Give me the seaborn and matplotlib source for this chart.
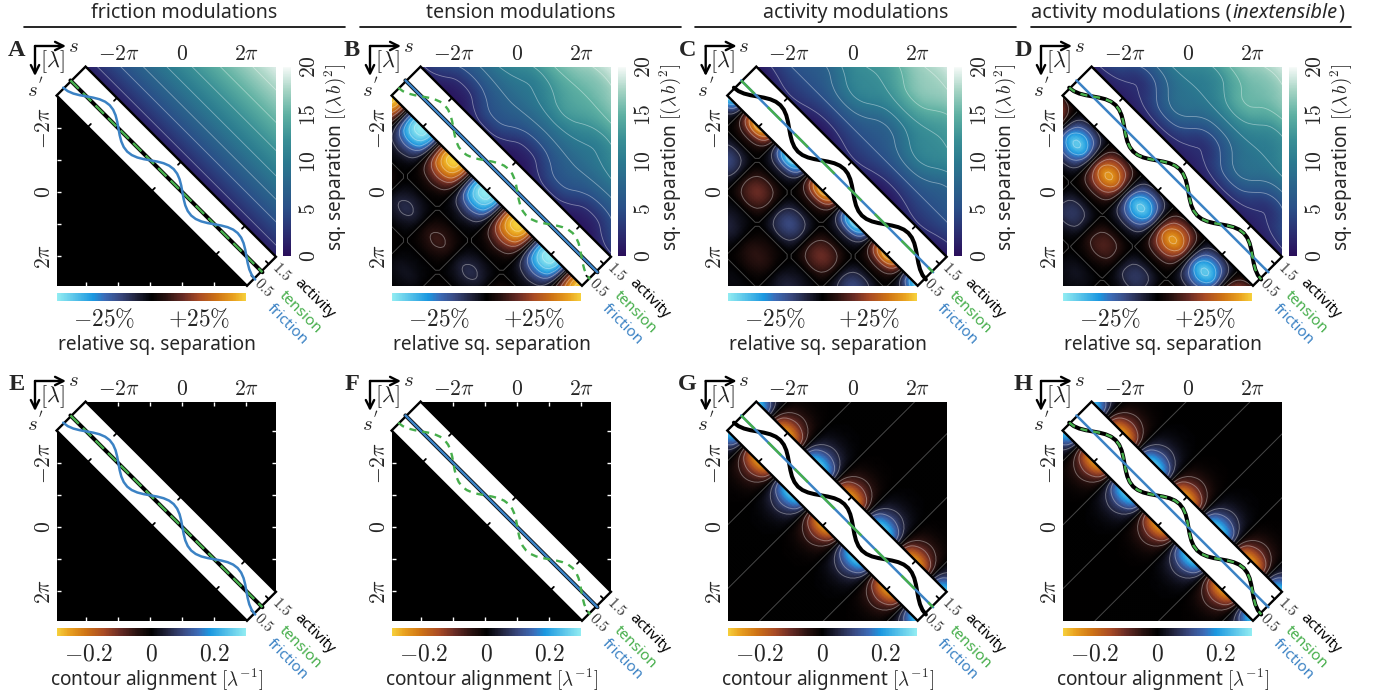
import numpy as np
import matplotlib
matplotlib.use("Agg")
import matplotlib.pyplot as plt
from matplotlib.cm import ScalarMappable
from matplotlib.colors import LinearSegmentedColormap, Normalize
from matplotlib.patches import Polygon
from matplotlib.transforms import Affine2D
import seaborn as sns

W, H = 1377, 696
pi = np.pi

titles = ["friction modulations", "tension modulations", "activity modulations"]
letters = ["A", "B", "C", "D", "E", "F", "G", "H"]

# profiles along the band, one value every pi/8 from s = -3.5 pi to 2.5 pi
wavy = [0.5, 0.538, 0.646, 0.809, 1.0, 1.191, 1.354, 1.462, 1.5, 1.462, 1.354, 1.191, 1.0, 0.809, 0.646, 0.538,
        0.5, 0.538, 0.646, 0.809, 1.0, 1.191, 1.354, 1.462, 1.5, 1.462, 1.354, 1.191, 1.0, 0.809, 0.646, 0.538,
        0.5, 0.538, 0.646, 0.809, 1.0, 1.191, 1.354, 1.462, 1.5, 1.462, 1.354, 1.191, 1.0, 0.809, 0.646, 0.538, 0.5]
flat = [1.0] * 49
profile_s = np.arange(-28, 21) * pi / 8

# sq. separation far from any modulation, one value per row of distance
distance = np.arange(1, 15) * pi / 2
sep_base = [0.3, 1.6, 3.3, 5.0, 6.8, 8.5, 10.2, 11.8, 13.3, 14.7, 16.0, 17.2, 18.4, 19.6]

# half a period: rows = distance from the diagonal,
# columns = midpoint at 0, pi/4, pi/2, 3 pi/4. next half period has the opposite sign
rel_tension = [[0, 0.30, 0.38, 0.30], [0, 0.40, 0.50, 0.40], [0, 0.33, 0.42, 0.33], [0, 0.16, 0.21, 0.16],
               [0, 0.04, 0.06, 0.04], [0, 0, 0, 0], [0, -0.04, -0.06, -0.04], [0, -0.07, -0.10, -0.07],
               [0, -0.035, -0.05, -0.035], [0, 0, 0, 0], [0, 0.015, 0.02, 0.015], [0, 0.03, 0.04, 0.03],
               [0, 0.015, 0.02, 0.015], [0, 0, 0, 0]]
rel_activity = [[0, -0.40, -0.55, -0.40], [0, -0.30, -0.42, -0.30], [0, -0.09, -0.12, -0.09], [0, 0, 0, 0],
                [0, 0.08, 0.11, 0.08], [0, 0.12, 0.165, 0.12], [0, 0.08, 0.11, 0.08], [0, 0, 0, 0],
                [0, -0.035, -0.05, -0.035], [0, -0.06, -0.08, -0.06], [0, -0.035, -0.05, -0.035], [0, 0, 0, 0],
                [0, 0.015, 0.02, 0.015], [0, 0.007, 0.01, 0.007]]
rel_inext = [[0, -0.015, -0.02, -0.015], [0, 0.07, 0.10, 0.07], [0, 0.22, 0.30, 0.22], [0, 0.31, 0.42, 0.31],
             [0, 0.20, 0.27, 0.20], [0, 0.06, 0.08, 0.06], [0, -0.015, -0.02, -0.015], [0, -0.08, -0.11, -0.08],
             [0, -0.09, -0.12, -0.09], [0, -0.035, -0.05, -0.035], [0, 0.007, 0.01, 0.007], [0, 0.03, 0.04, 0.03],
             [0, 0.02, 0.03, 0.02], [0, 0.007, 0.01, 0.007]]
align_activity = [[0, 0.25, 0.35, 0.25], [0, 0.17, 0.23, 0.17], [0, 0.07, 0.10, 0.07], [0, 0.025, 0.035, 0.025],
                  [0, 0.007, 0.010, 0.007], [0, 0.002, 0.003, 0.002], [0, 0.002, 0.002, 0.002], [0, 0.002, 0.002, 0.002],
                  [0, 0.002, 0.002, 0.002], [0, 0.002, 0.002, 0.002], [0, 0.002, 0.002, 0.002], [0, 0.002, 0.002, 0.002],
                  [0, 0.002, 0.002, 0.002], [0, 0.002, 0.002, 0.002]]

# colours
BLUE, GREEN = "#3b82c4", "#46ae4b"
rel_stops = [(0.0, "#92ecf2"), (0.19, "#1b98e0"), (0.25, "#3c6cb8"), (0.33, "#3a4a82"), (0.42, "#20223a"), (0.5, "#000000"),
             (0.58, "#2a1210"), (0.67, "#6a2c25"), (0.75, "#a84a25"), (0.85, "#cf7415"), (0.94, "#eaa320"), (1.0, "#f6d03c")]
sep_stops = [(0.0, "#2a0e5a"), (0.125, "#2b2f72"), (0.25, "#2a4f88"), (0.5, "#2b7a90"), (0.62, "#3a9096"),
             (0.75, "#5fb1a3"), (0.875, "#a4d3c3"), (1.0, "#f6faf8")]
rel_cmap = LinearSegmentedColormap.from_list("rel", rel_stops)
align_cmap = rel_cmap.reversed()
sep_cmap = LinearSegmentedColormap.from_list("sep", sep_stops)

sns.set_theme(style="white")
plt.rcParams["font.family"] = ["Noto Sans", "DejaVu Sans"]
plt.rcParams["mathtext.fontset"] = "cm"

fig = plt.figure(figsize=(W / 100, H / 100), dpi=100)


def fx(x):
    return x / W


def fy(y):
    return 1 - y / H


def unroll(table):
    half = np.asarray(table, dtype=float)
    parts = [half * (-1.0) ** k for k in range(-4, 3)]
    return np.hstack(parts + [half[:, :1]])


# same job as imshow's bicubic: only makes the read values render smooth
def refine(z, n=4):
    for axis in (0, 1):
        z = np.moveaxis(z, axis, 0)
        a = np.vstack([2 * z[:1] - z[1:2], z, 2 * z[-1:] - z[-2:-1]])
        t = (np.arange((len(z) - 1) * n + 1) / n)
        i = np.minimum(t.astype(int), len(z) - 2)
        t = (t - i)[:, None]
        p0, p1, p2, p3 = a[i], a[i + 1], a[i + 2], a[i + 3]
        z = 0.5 * (2 * p1 + (p2 - p0) * t + (2 * p0 - 5 * p1 + 4 * p2 - p3) * t ** 2 + (3 * p1 - p0 - 3 * p2 + p3) * t ** 3)
        z = np.moveaxis(z, 0, axis)
    return z


midpoint = np.arange(-16, 13) * pi / 4
fine_mid = np.linspace(midpoint[0], midpoint[-1], (len(midpoint) - 1) * 4 + 1)
fine_dist = np.linspace(distance[0], distance[-1], (len(distance) - 1) * 4 + 1)
K = 0.453 * pi
AX0, AX1 = -3.92 * pi, 2.93 * pi
band_s = (-3.48 * pi, 2.47 * pi)
band_ticks = np.array([-2.5, -0.5, 1.5]) * pi
side_ticks = [0.5, 1.0, 1.5]
rel_levels = [-0.47, -0.4, -0.3, -0.2, -0.08, 0.08, 0.2, 0.3, 0.4, 0.47]
align_levels = [-0.1, -0.05, 0.05, 0.1]
sep_levels = np.arange(2.5, 20, 2.5)


def draw_field(ax, table, lower, cmap, vmax, levels, shape):
    m, d = np.meshgrid(fine_mid, fine_dist)
    sign = 1 if lower else -1
    x, y = m - sign * d / 2, m + sign * d / 2
    z = refine(unroll(table))
    mesh = ax.pcolormesh(x, y, z, cmap=cmap, vmin=-vmax, vmax=vmax, shading="gouraud", zorder=1)
    mesh.set_clip_path(shape)
    ring = ax.contour(x, y, z, levels=levels, colors="white", linewidths=0.7, alpha=0.35, linestyles="solid", zorder=2)
    ring.set_clip_path(shape)
    zero = ax.contour(x, y, z, levels=[1e-5], colors="white", linewidths=0.7, alpha=0.28, linestyles="solid", zorder=2)
    zero.set_clip_path(shape)


def draw_sep(ax, table, shape):
    m, d = np.meshgrid(fine_mid, fine_dist)
    x, y = m + d / 2, m - d / 2
    base = np.tile(np.asarray(sep_base)[:, None], (1, len(midpoint)))
    z = base if table is None else base * (1 + unroll(table))
    z = refine(z)
    mesh = ax.pcolormesh(x, y, z, cmap=sep_cmap, vmin=0, vmax=20, shading="gouraud", zorder=1)
    mesh.set_clip_path(shape)
    lines = ax.contour(x, y, z, levels=sep_levels, colors="white", linewidths=0.6, alpha=0.4, zorder=2)
    lines.set_clip_path(shape)


def draw_band(ax, friction, tension, activity):
    band = Affine2D.from_values(1, 1, K, -K, -K, K) + ax.transData
    u0, u1 = band_s
    ax.add_patch(Polygon([(u0, 0), (u0, 2), (u1, 2), (u1, 0)], closed=True, facecolor="white", edgecolor="black",
                         linewidth=1.7, transform=band, zorder=5, clip_on=False, joinstyle="miter"))
    for u in band_ticks:
        ax.plot([u, u], [0, 0.2], color="black", lw=1.3, transform=band, zorder=6, clip_on=False)
        ax.plot([u, u], [2, 1.8], color="black", lw=1.3, transform=band, zorder=6, clip_on=False)
    for v in side_ticks:
        ax.plot([u1, u1 - 0.09 * pi], [v, v], color="black", lw=1.3, transform=band, zorder=6, clip_on=False)
    if tension is wavy:
        dash = (3, 2.5)
    elif activity is wavy:
        dash = (8, 8)
    else:
        dash = (5, 2.5)
    common = dict(x=profile_s, ax=ax, estimator=None, sort=False, legend=False, transform=band, clip_on=False)
    sns.lineplot(y=activity, color="black", linewidth=2.9, zorder=7, **common)
    sns.lineplot(y=friction, color=BLUE, linewidth=1.8, zorder=10 if friction is wavy else 8, **common)
    sns.lineplot(y=tension, color=GREEN, linewidth=1.7, linestyle=(0, dash), zorder=9, **common)


def decorate(ax, px, py):
    ax.set_xlim(AX0, AX1)
    ax.set_ylim(AX1, AX0)
    for side in ax.spines.values():
        side.set_visible(False)
    labels = [r"$-2\pi$", r"$0$", r"$2\pi$"]
    ax.set_xticks([-2 * pi, 0, 2 * pi], labels, fontsize=15.5)
    ax.set_yticks([-2 * pi, 0, 2 * pi], labels, fontsize=15.5, rotation=90, va="center")
    ax.set_xticks([-3 * pi, -pi, pi], minor=True)
    ax.set_yticks([-3 * pi, -pi, pi], minor=True)
    for which in ("major", "minor"):
        ax.tick_params(which=which, direction="in", color="white", length=3, width=1, top=True, bottom=True,
                       left=True, right=True, labeltop=True, labelbottom=False, pad=1.5)
    ax.patch.set_visible(False)
    ax.grid(False)
    fig.text(fx(px + 206), fy(py + 221), r"$0.5$", fontsize=11, rotation=-45, ha="center", va="center", color="#333333")
    fig.text(fx(px + 224), fy(py + 205), r"$1.5$", fontsize=11, rotation=-45, ha="center", va="center", color="#333333")
    for dx, dy, text, col in [(257, 232, "activity", "black"), (243, 245, "tension", GREEN), (230, 258, "friction", BLUE)]:
        fig.text(fx(px + dx), fy(py + dy), text, fontsize=11, rotation=-45, ha="center", va="center", color=col,
                 rotation_mode="anchor")
    for xy in [(px - 22 + 31, py - 21), (px - 22, py - 21 + 30)]:
        ax.annotate("", xy=(fx(xy[0]), fy(xy[1])), xytext=(fx(px - 22), fy(py - 21)), xycoords="figure fraction",
                    textcoords="figure fraction", annotation_clip=False,
                    arrowprops=dict(arrowstyle="->", lw=1.7, color="black", mutation_scale=15, shrinkA=0, shrinkB=0))
    fig.text(fx(px - 5), fy(py - 5), r"$[\lambda]$", fontsize=16, ha="center", va="center", color="#222222")
    fig.text(fx(px + 16), fy(py - 21), r"$s$", fontsize=15, ha="center", va="center")
    fig.text(fx(px - 25), fy(py + 23), r"$s$", fontsize=15, ha="center", va="center")
    fig.text(fx(px - 16), fy(py + 12), r"$\prime$", fontsize=9, ha="center", va="center")


def bottom_bar(px, py, cmap, vmax, ticks, shown, label):
    cax = fig.add_axes([fx(px), fy(py + 234), 189 / W, 7.7 / H])
    bar = fig.colorbar(ScalarMappable(Normalize(-vmax, vmax), cmap), cax=cax, orientation="horizontal")
    bar.outline.set_visible(False)
    bar.set_ticks(ticks, labels=[shown.get(t, "") for t in ticks])
    cax.tick_params(direction="in", color="white", length=2, width=1, labelsize=17, pad=5)
    fig.text(fx(px + 100), fy(py + 278), label, fontsize=13.7, ha="center", va="center")


def right_bar(px, py):
    cax = fig.add_axes([fx(px + 226), fy(py + 189), 8 / W, 189 / H])
    bar = fig.colorbar(ScalarMappable(Normalize(0, 20), sep_cmap), cax=cax)
    bar.outline.set_visible(False)
    bar.set_ticks(np.arange(0, 20.1, 2.5))
    bar.set_ticklabels([r"$0$", "", r"$5$", "", r"$10$", "", r"$15$", "", r"$20$"], rotation=90, va="center")
    cax.tick_params(direction="in", color="white", length=2, width=1, labelsize=15.5, pad=6)
    fig.text(fx(px + 278), fy(py + 90), r"sq. separation $[(\lambda\, b)^2]$", fontsize=13.7, rotation=90,
             ha="center", va="center")


def new_panel(px, py):
    ax = fig.add_axes([fx(px), fy(py + 219), 219.2 / W, 219 / H])
    u0, u1 = band_s
    shape = Polygon([(AX0, u0 + K), (u0 + K, AX0), (AX1, AX0), (AX1, u1 - K), (u1 - K, AX1), (AX0, AX1)], closed=True,
                    facecolor="black", edgecolor="none", zorder=0.5, transform=ax.transData)
    ax.add_patch(shape)
    return ax, shape


top_x = [57, 392, 727.7, 1063]
top_tables = [None, rel_tension, rel_activity, rel_inext]
top_profiles = [(wavy, flat, flat), (flat, wavy, flat), (flat, flat, wavy), (flat, wavy, wavy)]
align_tables = [None, None, align_activity, align_activity]
rel_ticks = [-0.375, -0.25, -0.125, 0, 0.125, 0.25, 0.375]
align_ticks = [-0.2, -0.1, 0, 0.1, 0.2]

for i in range(4):
    px = top_x[i]
    friction, tension, activity = top_profiles[i]

    ax, shape = new_panel(px, 67)
    draw_sep(ax, top_tables[i], shape)
    if top_tables[i] is not None:
        draw_field(ax, top_tables[i], True, rel_cmap, 0.5, rel_levels, shape)
    draw_band(ax, friction, tension, activity)
    decorate(ax, px, 67)
    bottom_bar(px, 67, rel_cmap, 0.5, rel_ticks, {-0.25: r"$-25\%$", 0.25: r"$+25\%$"}, "relative sq. separation")
    right_bar(px, 67)

    ax, shape = new_panel(px, 402)
    if align_tables[i] is not None:
        draw_field(ax, align_tables[i], True, align_cmap, 0.3, align_levels, shape)
        draw_field(ax, align_tables[i], False, align_cmap, 0.3, align_levels, shape)
    draw_band(ax, friction, tension, activity)
    decorate(ax, px, 402)
    bottom_bar(px, 402, align_cmap, 0.3, align_ticks, {-0.2: r"$-0.2$", 0: r"$0$", 0.2: r"$0.2$"},
               r"contour alignment $[\lambda^{-1}]$")

    for py, row in [(50, 0), (385, 4)]:
        fig.text(fx(px - 40), fy(py), letters[row + i], fontsize=17.5, fontweight="bold", family="Liberation Serif",
                 ha="center", va="center")

# column headers
rule_x = [(24, 345), (360, 681), (695, 1016), (1031, 1351)]
for (x0, x1), title in zip(rule_x[:3], titles):
    fig.text(fx((x0 + x1) / 2), fy(13), title, fontsize=14.1, ha="center", va="center")
fig.canvas.draw()
cursor = 1031
for part, style in [("activity modulations (", "normal"), ("inextensible", "italic"), (")", "normal")]:
    t = fig.text(fx(cursor), fy(13), part, fontsize=14.4, style=style, ha="left", va="center")
    cursor = t.get_window_extent().x1 + 1
for x0, x1 in rule_x:
    fig.add_artist(plt.Line2D([fx(x0), fx(x1)], [fy(27), fy(27)], color="black", lw=1.2))

fig.savefig("out.png", dpi=100)
